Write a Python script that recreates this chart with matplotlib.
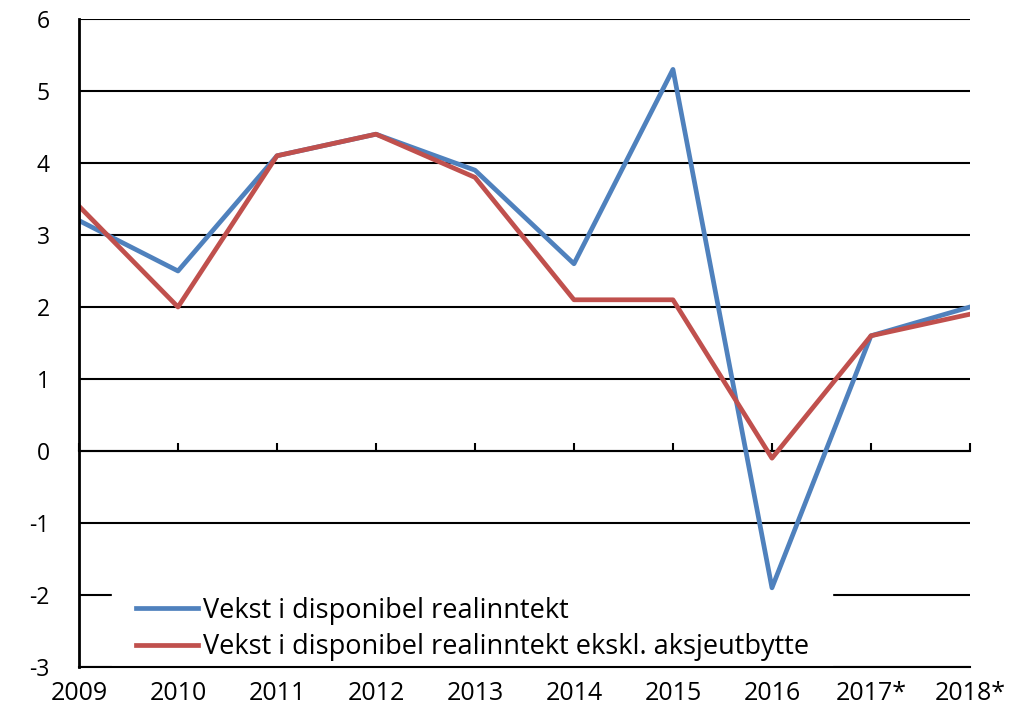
import numpy as np
import matplotlib.pyplot as plt

plt.rcParams['font.family'] = ['Open Sans', 'DejaVu Sans']
plt.rcParams['axes.unicode_minus'] = False

years = ["2009", "2010", "2011", "2012", "2013", "2014", "2015", "2016", "2017*", "2018*"]

# vekst i disponibel realinntekt, prosent
vekst = [3.2, 2.5, 4.1, 4.4, 3.9, 2.6, 5.3, -1.9, 1.6, 2.0]
# ekskl. aksjeutbytte
vekst_ekskl = [3.4, 2.0, 4.1, 4.4, 3.8, 2.1, 2.1, -0.1, 1.6, 1.9]

blue = "#4F81BD"
red = "#C0504D"
ymin, ymax = -3, 6

fig = plt.figure(figsize=(10.30, 7.08), dpi=100)
ax = fig.add_axes([0.0767, 0.0579, 0.8650, 0.9153])

x = np.arange(len(years))
ax.plot(x, vekst, color=blue, lw=3.4, label="Vekst i disponibel realinntekt")
ax.plot(x, vekst_ekskl, color=red, lw=3.4, label="Vekst i disponibel realinntekt ekskl. aksjeutbytte")

ax.set_xlim(0, len(years) - 1)
ax.set_ylim(ymin, ymax)
ax.set_yticks(range(ymin, ymax + 1))
ax.yaxis.grid(True, color="black", lw=1.5)
ax.set_axisbelow(True)
ax.tick_params(axis="y", length=0, labelsize=16.5, pad=21)

ax.spines["bottom"].set_linewidth(1.5)
ax.spines["left"].set_linewidth(2)
ax.spines["top"].set_visible(False)
ax.spines["right"].set_visible(False)
ax.set_xticks(x, years)
ax.tick_params(axis="x", length=0, labelsize=18, pad=10)
ax.xaxis.set_zorder(2.6)  # årstallene over legendeboksen

# tick-merker langs nullinjen
zero = ax.secondary_xaxis((0 - ymin) / (ymax - ymin))
zero.set_xticks(x)
zero.tick_params(direction="in", length=6, width=1.5, labelbottom=False)
zero.spines["bottom"].set_linewidth(1.5)

leg = ax.legend(loc="center left", bbox_to_anchor=(0.0224, 0.0586), frameon=True, fontsize=19.5,
                handlelength=2.3, handletextpad=0.18, labelspacing=0.31, borderpad=0.85)
leg.get_frame().set_edgecolor("white")
leg.get_frame().set_facecolor("white")
leg.get_frame().set_alpha(1)
leg.get_frame().set_boxstyle("square", pad=0)
leg.set_zorder(1.5)

fig.savefig("out.png", dpi=100)
